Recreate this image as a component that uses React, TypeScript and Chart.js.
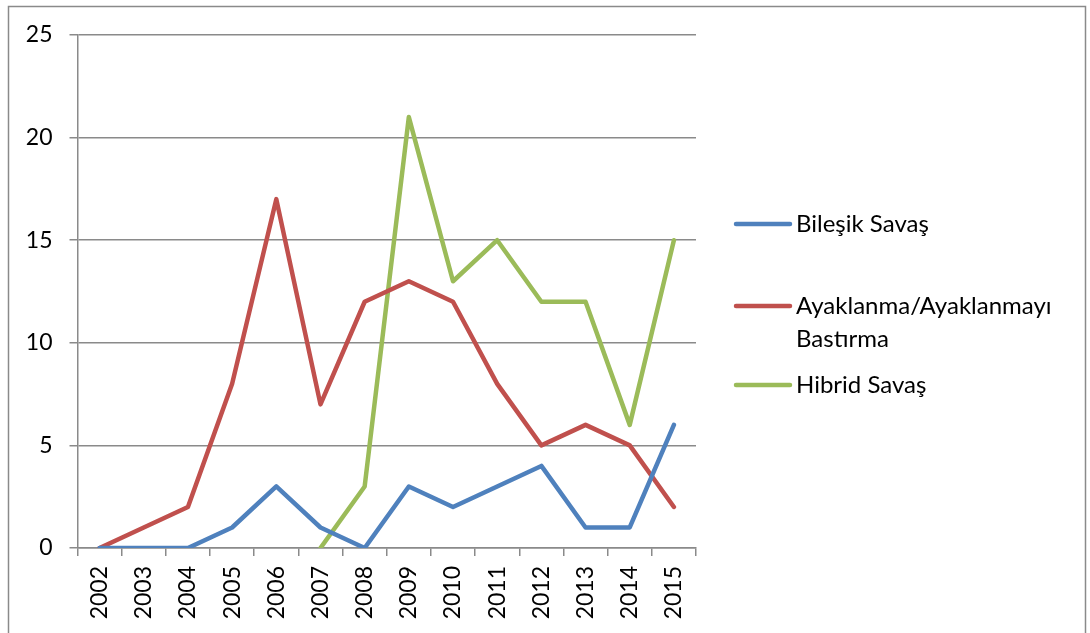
import React, { useEffect, useRef } from "react";
import { Chart, registerables } from "chart.js";

Chart.register(...registerables);

const years = ["2002", "2003", "2004", "2005", "2006", "2007", "2008", "2009", "2010", "2011", "2012", "2013", "2014", "2015"];
const bilesikSavas = [0, 0, 0, 1, 3, 1, 0, 3, 2, 3, 4, 1, 1, 6];
const ayaklanma = [0, 1, 2, 8, 17, 7, 12, 13, 12, 8, 5, 6, 5, 2];
const hibridSavas = [null, null, null, null, null, 0, 3, 21, 13, 15, 12, 12, 6, 15];
const seriesNames = ["Bileşik Savaş", "Ayaklanma/Ayaklanmayı Bastırma", "Hibrid Savaş"];
const seriesColors = ["#4F81BD", "#C0504D", "#9BBB59"];
const yTicks = [0, 5, 10, 15, 20, 25];

const FONT = "Lato, 'Open Sans', sans-serif";
const GRID = "#8a8a8a";

const W = 1090;
const H = 633;
const PLOT_LEFT = 77.5;
const PLOT_TOP = 35;
const PLOT_RIGHT = 696;
const PLOT_BOTTOM = 548;

// legend layout
const LEG_LINE_X0 = 736;
const LEG_LINE_X1 = 790;
const LEG_TEXT_X = 796;
const LEG_ROW_Y = [224, 306, 385];
const LEG_LINE_H = 33;
const LEG_MAX_W = 285;

const legendPlugin = {
  id: "customLegend",
  afterDraw(chart: any) {
    const ctx = chart.ctx;
    ctx.save();
    // outer frame
    ctx.strokeStyle = GRID;
    ctx.lineWidth = 1.5;
    ctx.strokeRect(8.5, 6.5, 1077, 700);
    ctx.font = `24px ${FONT}`;
    ctx.textBaseline = "middle";
    ctx.textAlign = "left";
    chart.data.datasets.forEach((ds: any, i: number) => {
      const y = LEG_ROW_Y[i];
      ctx.strokeStyle = ds.borderColor;
      ctx.lineWidth = 4.5;
      ctx.lineCap = "round";
      ctx.beginPath();
      ctx.moveTo(LEG_LINE_X0, y);
      ctx.lineTo(LEG_LINE_X1, y);
      ctx.stroke();
      const words = String(ds.label).split(" ");
      const lines: string[] = [];
      let cur = "";
      words.forEach((w) => {
        const test = cur ? cur + " " + w : w;
        if (cur && ctx.measureText(test).width > LEG_MAX_W) {
          lines.push(cur);
          cur = w;
        } else cur = test;
      });
      if (cur) lines.push(cur);
      ctx.fillStyle = "#000";
      lines.forEach((ln, k) => ctx.fillText(ln, LEG_TEXT_X, y + k * LEG_LINE_H));
    });
    ctx.restore();
  },
};

export default function App() {
  const ref = useRef<HTMLCanvasElement>(null);
  useEffect(() => {
    document.body.style.margin = "0";
    const data = [bilesikSavas, ayaklanma, hibridSavas];
    const chart = new Chart(ref.current!, {
      type: "line",
      data: {
        labels: years,
        datasets: data.map((d, i) => ({
          label: seriesNames[i],
          data: d,
          borderColor: seriesColors[i],
          backgroundColor: seriesColors[i],
          borderWidth: 4.5,
          pointRadius: 0,
          pointHoverRadius: 0,
          tension: 0,
          borderJoinStyle: "round" as const,
          borderCapStyle: "round" as const,
          spanGaps: false,
        })),
      },
      options: {
        animation: false,
        responsive: true,
        maintainAspectRatio: false,
        layout: { padding: { left: 0, top: PLOT_TOP, right: W - PLOT_RIGHT, bottom: 0 } },
        plugins: { legend: { display: false }, tooltip: { enabled: false } },
        scales: {
          x: {
            type: "category",
            offset: true,
            afterFit: (s: any) => {
              s.height = H - PLOT_BOTTOM;
            },
            grid: {
              offset: true,
              drawOnChartArea: false,
              drawTicks: true,
              tickLength: 8,
              color: GRID,
              lineWidth: 1.5,
            },
            border: { display: true, color: GRID, width: 1.5 },
            ticks: {
              color: "#000",
              font: { family: FONT, size: 23 },
              maxRotation: 90,
              minRotation: 90,
              padding: 10,
              autoSkip: false,
            },
          },
          y: {
            min: 0,
            max: 25,
            afterFit: (s: any) => {
              s.width = PLOT_LEFT;
            },
            afterBuildTicks: (s: any) => {
              s.ticks = yTicks.map((v) => ({ value: v }));
            },
            grid: {
              color: GRID,
              lineWidth: 1.5,
              drawTicks: true,
              tickLength: 8,
            },
            border: { display: true, color: GRID, width: 1.5 },
            ticks: {
              color: "#000",
              font: { family: FONT, size: 23 },
              padding: 17,
            },
          },
        },
      },
      plugins: [legendPlugin],
    });
    return () => chart.destroy();
  }, []);
  return (
    <div style={{ position: "fixed", left: 0, top: 0, width: W, height: H, background: "#fff" }}>
      <canvas ref={ref} />
    </div>
  );
}
